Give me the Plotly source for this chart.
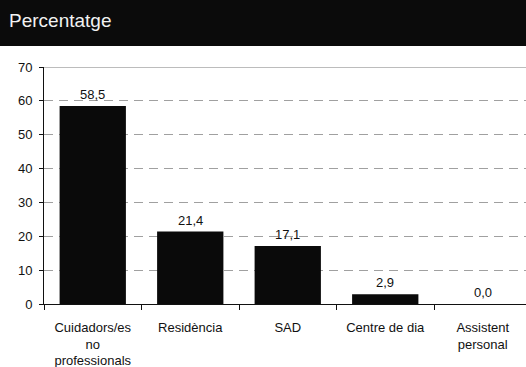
import plotly.graph_objects as go

# Distribution of care types (percentages)
categories = ["Cuidadors/es<br>no<br>professionals", "Residència", "SAD", "Centre de dia", "Assistent<br>personal"]
values = [58.5, 21.4, 17.1, 2.9, 0.0]
y_ticks = [0, 10, 20, 30, 40, 50, 60, 70]
title_text = "Percentatge"

FONT = "Arial, Liberation Sans, sans-serif"
W, H = 526, 367
ML, MR, MT, MB = 44, 0, 67, 63
plot_w = W - ML - MR
plot_h = H - MT - MB

fig = go.Figure()
fig.add_trace(go.Bar(
    x=categories,
    y=values,
    marker=dict(color="#0a0a0a", line=dict(width=0)),
    width=0.68,
    hoverinfo="skip",
))

# value labels above each bar, using decimal comma
for c, v in zip(categories, values):
    fig.add_annotation(
        x=c, y=v, xref="x", yref="y",
        text=f"{v:.1f}".replace(".", ","),
        showarrow=False, yanchor="bottom", yshift=2,
        font=dict(family=FONT, size=13, color="#111111"),
    )

# dark header band with the title
fig.add_shape(
    type="rect", xref="paper", yref="paper",
    x0=-ML / plot_w, x1=1.0,
    y0=(plot_h + MT - 46) / plot_h, y1=(plot_h + MT) / plot_h,
    fillcolor="#0b0b0b", line=dict(width=0), layer="above",
)
fig.add_annotation(
    text=title_text, xref="paper", yref="paper",
    x=(7 - ML) / plot_w, y=(plot_h + MT - 21) / plot_h,
    xanchor="left", yanchor="middle", showarrow=False,
    font=dict(family=FONT, size=19, color="#f2f2f2"),
)

# solid top border at the axis maximum
fig.add_shape(
    type="line", xref="paper", yref="y",
    x0=0, x1=1, y0=70, y1=70,
    line=dict(color="#7a7a7a", width=1),
)

fig.update_layout(
    width=W, height=H,
    margin=dict(l=ML, r=MR, t=MT, b=MB),
    paper_bgcolor="white", plot_bgcolor="white",
    showlegend=False,
    bargap=0.32,
    font=dict(family=FONT, size=13, color="#111111"),
)
fig.update_xaxes(
    type="category",
    range=[-0.5, -0.5 + plot_w / 97.5],
    tickson="boundaries",
    ticks="outside", ticklen=5, tickcolor="#111111",
    showline=True, linecolor="#111111", linewidth=1,
    showgrid=False,
    tickfont=dict(family=FONT, size=13, color="#111111"),
    ticklabelstandoff=11,
)
fig.update_yaxes(
    range=[0, 70],
    tickvals=y_ticks,
    ticks="outside", ticklen=4, tickcolor="#111111",
    showline=True, linecolor="#111111", linewidth=1,
    showgrid=True, gridcolor="#a0a0a0", griddash="9px,6px", gridwidth=1,
    zeroline=False,
    tickfont=dict(family=FONT, size=13, color="#111111"),
    ticklabelstandoff=4,
)

fig.write_html("out.html")
